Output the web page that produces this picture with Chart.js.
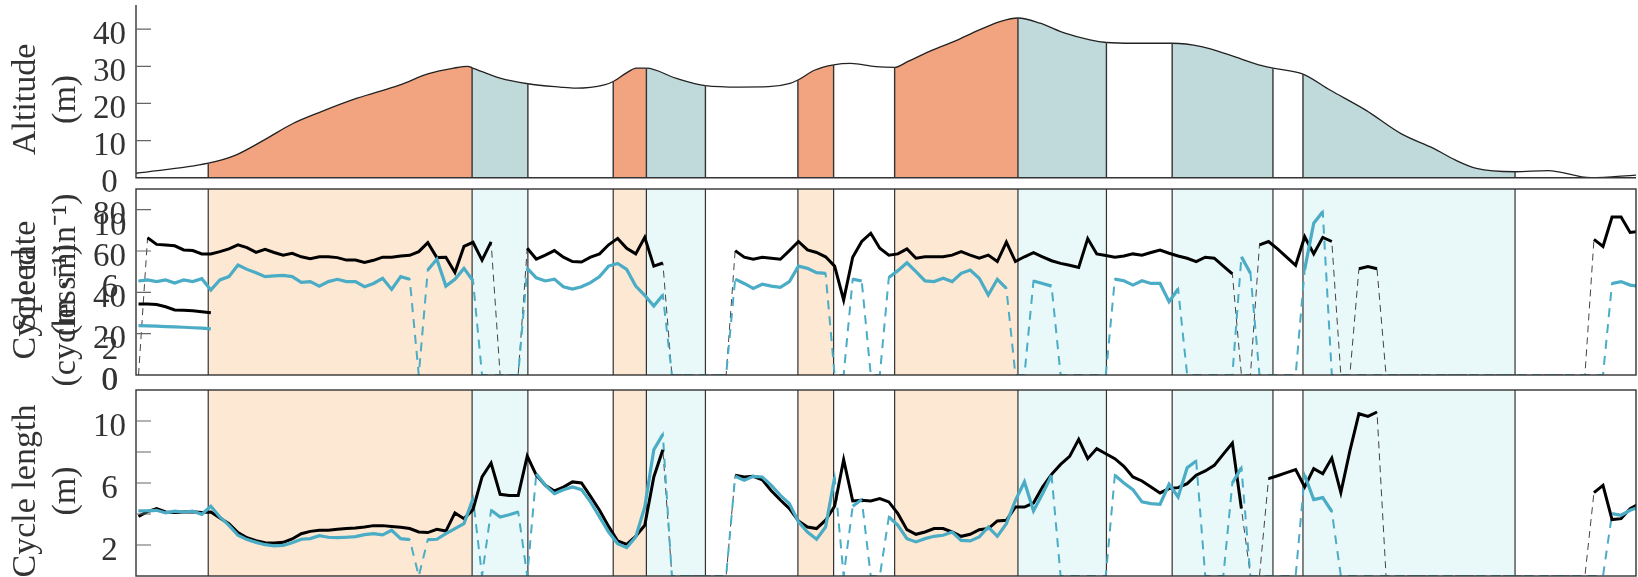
<!DOCTYPE html>
<html>
<head>
<meta charset="utf-8">
<script src="https://cdn.jsdelivr.net/npm/chart.js@4.4.0/dist/chart.umd.min.js"></script>
<style>
  html, body { margin: 0; padding: 0; background: #fff; }
  #wrap { position: relative; width: 1638px; height: 577px; overflow: hidden; }
  canvas { position: absolute; left: 0; }
</style>
</head>
<body>
<div id="wrap">
  <canvas id="altChart" width="1638" height="210" style="top:0"></canvas>
  <canvas id="rateChart" width="1638" height="220" style="top:180px"></canvas>
  <canvas id="lengthChart" width="1638" height="207" style="top:370px"></canvas>
</div>
<script>
// Course sections (distance in sample units) and their slope type
const sectionEdges = [-0.28, 7.71, 36.90, 43.07, 52.51, 56.18, 62.71, 72.94, 76.89, 83.64, 97.28, 107.07, 114.34, 125.49, 128.81, 152.27, 165.65];
const sectionTypes = ["flat", "up", "down", "flat", "up", "down", "flat", "up", "flat", "up", "down", "flat", "down", "flat", "down", "flat"];

// Altitude profile (m)
const altDist = [-0.28, 7.71, 10.75, 13.92, 17.08, 20.23, 24.18, 28.93, 32.09, 34.86, 36.44, 36.90, 39.99, 43.07, 46.62, 48.36, 51.53, 52.51, 53.89, 55.08, 56.18, 59.42, 62.71, 66.54, 69.70, 72.07, 72.94, 74.83, 76.89, 78.78, 81.55, 83.64, 85.11, 87.88, 90.24, 93.01, 95.38, 97.28, 99.72, 102.49, 105.25, 107.07, 110.08, 114.34, 117.58, 120.74, 123.91, 125.49, 128.81, 131.8, 135.75, 139.70, 143.26, 145.63, 148.0, 152.27, 155.91, 160.64, 165.65];
const altValue = [1.2, 3.9, 6.1, 10.2, 14.6, 17.8, 21.4, 25, 28, 29.5, 30, 29.6, 26.8, 25.3, 24.4, 24.1, 25, 25.9, 28.1, 29.5, 29.5, 26.8, 24.8, 24.4, 24.5, 25.4, 26.3, 29, 30.4, 30.8, 29.9, 29.7, 31.3, 34.4, 36.7, 39.8, 42.1, 43, 41.6, 38.9, 37.1, 36.4, 36.2, 36.2, 35.3, 33, 30.4, 29.5, 27.9, 23.6, 18.2, 11.8, 7.9, 4.8, 2.5, 1.6, 1.9, 0, 0.7];

// Cycle rate (cycles/min), 0 = no value
const rateBlack = [0, 66.4, 63.2, 62.9, 62.5, 60.5, 60.2, 58.6, 58.6, 59.7,
  61, 63, 61.6, 59.3, 60.8, 59.3, 58, 58.9, 57.2, 56.3,
  57.2, 57.2, 56.8, 55.6, 55.6, 54.5, 55.5, 57, 57, 57.6,
  57.9, 59.7, 64, 56.8, 57, 49.6, 62.2, 64.2, 55.6, 64.4,
  0, 0, 0, 61.3, 56.1, 58, 60.2, 57, 54.9, 54.7,
  57, 58.6, 63, 66.1, 61.3, 58.6, 66.6, 52.7, 54.2, 0,
  0, 0, 0, 0, 0, 0, 60.2, 57, 56, 57,
  56.5, 56, 60.2, 64.6, 60.5, 59.3, 57.2, 52.7, 36.3, 57,
  64.6, 68.6, 61.3, 58, 58.6, 61, 56.5, 57.2, 57.2, 57.2,
  58, 59.7, 58, 56.5, 58, 54.9, 64.3, 54.9, 57.2, 59.2,
  57.2, 55.3, 54, 53.1, 52, 66, 58.6, 57.8, 57, 57.6,
  58.6, 58, 59.3, 60.5, 58.9, 57.6, 56.5, 54.9, 57, 56.5,
  52.7, 48.9, 0, 0, 63, 64.6, 61, 57, 53.1, 66.9,
  58.6, 66.6, 64.6, 0, 0, 51.4, 52.5, 51.4, 0, 0,
  0, 0, 0, 0, 0, 0, 0, 0, 0, 0,
  0, 0, 0, 0, 0, 0, 0, 0, 0, 0,
  0, 65.6, 62.2, 76.4, 76.4, 69, 69.5];
const rateBlue = [45.5, 46, 45.2, 46, 44.5, 46, 45.2, 46.6, 41.1, 46,
  47.6, 53.2, 51.1, 49.5, 47.6, 48, 48.2, 47.6, 44.8, 45.2,
  43, 45.2, 46.3, 45.2, 45.2, 42.7, 44.3, 46.8, 41.4, 47.6,
  46.3, 0, 50.8, 56, 43, 46.3, 51.6, 45.6, 0, 0,
  0, 0, 0, 51.6, 47, 45.5, 46.4, 42.7, 41.6, 42.7,
  44.7, 47.6, 52.7, 54, 51.1, 43, 38.5, 33.4, 38.7, 0,
  0, 0, 0, 0, 0, 0, 46.4, 44.3, 41.9, 43.9,
  43, 42.4, 45.2, 52.7, 51.6, 49.5, 49.2, 0, 0, 46.4,
  45.5, 0, 0, 47.2, 50.5, 54.3, 50, 45.5, 45.2, 46.8,
  45.2, 49.2, 50.8, 46.8, 38.7, 46.3, 41.9, 0, 0, 45.5,
  44.3, 43, 0, 0, 0, 0, 0, 0, 46.4, 45.6,
  43.5, 45.6, 44.3, 44.3, 35.5, 41.6, 0, 0, 0, 0,
  0, 0, 57.2, 49.2, 0, 0, 0, 0, 0, 51.1,
  73.4, 79, 0, 0, 0, 0, 0, 0, 0, 0,
  0, 0, 0, 0, 0, 0, 0, 0, 0, 0,
  0, 0, 0, 0, 0, 0, 0, 0, 0, 0,
  0, 0, 0, 44.3, 45.2, 43.5, 43];

// Speed (m/s), first section only
const speedBlack = [4.58, 4.58, 4.55, 4.4, 4.2, 4.18, 4.15, 4.08, 4.02];
const speedBlue = [3.18, 3.17, 3.15, 3.12, 3.1, 3.08, 3.05, 3.02, 2.98];

// Cycle length (m), 0 = no value
const lengthBlack = [3.85, 4.15, 4.35, 4.13, 4.1, 4.13, 4.15, 4.1, 4.13, 3.74,
  3.38, 2.8, 2.47, 2.28, 2.15, 2.13, 2.17, 2.39, 2.73, 2.88,
  2.95, 2.95, 3.01, 3.06, 3.1, 3.16, 3.25, 3.25, 3.2, 3.14,
  3.06, 2.84, 2.8, 3.01, 2.9, 4.07, 3.7, 4.28, 6.39, 7.29,
  5.27, 5.2, 5.2, 7.74, 6.5, 5.85, 5.49, 5.74, 6.07, 6.0,
  5.14, 4.24, 3.2, 2.26, 2.04, 2.56, 3.27, 6.39, 8.15, 0,
  0, 0, 0, 0, 0, 0, 6.5, 6.39, 6.43, 6.2,
  5.5, 4.9, 4.35, 3.55, 3.16, 3.06, 3.6, 4.5, 7.51, 4.84,
  4.88, 4.84, 4.99, 4.78, 4.02, 2.99, 2.69, 2.84, 3.06, 3.06,
  2.84, 2.56, 2.69, 2.99, 3.06, 3.55, 3.59, 4.45, 4.45, 4.71,
  5.74, 6.56, 7.2, 7.72, 8.82, 7.57, 8.22, 7.89, 7.57, 7.08,
  6.39, 6.13, 5.74, 5.36, 5.64, 5.7, 5.96, 6.5, 6.78, 7.14,
  7.86, 8.58, 4.35, 0, 0, 6.28, 6.47, 6.67, 6.86, 5.74,
  6.93, 6.6, 7.61, 5.38, 8.07, 10.47, 10.3, 10.58, 0, 0,
  0, 0, 0, 0, 0, 0, 0, 0, 0, 0,
  0, 0, 0, 0, 0, 0, 0, 0, 0, 0,
  0, 5.38, 5.85, 3.64, 3.7, 4.35, 4.67];
const lengthBlue = [4.2, 4.2, 4.24, 4.07, 4.18, 4.13, 4.18, 3.98, 4.5, 3.81,
  3.27, 2.63, 2.35, 2.17, 2.02, 1.94, 1.98, 2.15, 2.37, 2.41,
  2.6, 2.5, 2.47, 2.5, 2.54, 2.67, 2.73, 2.65, 2.95, 2.41,
  2.35, 0, 2.35, 2.37, 2.73, 3.06, 3.38, 4.99, 0, 4.24,
  3.81, 3.95, 4.13, 0, 6.6, 5.85, 5.31, 5.57, 5.74, 5.57,
  4.78, 3.81, 2.84, 2.09, 1.83, 2.52, 4.45, 8.15, 9.14, 0,
  0, 0, 0, 0, 0, 0, 6.43, 6.17, 6.43, 6.39,
  5.85, 5.2, 4.67, 3.49, 2.84, 2.37, 3.16, 6.35, 0, 4.5,
  4.93, 0, 0, 3.81, 3.27, 2.41, 2.2, 2.41, 2.56, 2.63,
  2.84, 2.3, 2.26, 2.52, 3.16, 2.56, 3.38, 4.88, 6.07, 4.2,
  5.31, 6.5, 0, 0, 0, 0, 0, 0, 6.5, 6.0,
  5.57, 4.78, 4.67, 4.63, 5.92, 5.1, 6.99, 7.42, 0, 0,
  0, 6.0, 6.99, 0, 0, 0, 0, 0, 0, 6.5,
  4.93, 5.06, 4.17, 0, 0, 0, 0, 0, 0, 0,
  0, 0, 0, 0, 0, 0, 0, 0, 0, 0,
  0, 0, 0, 0, 0, 0, 0, 0, 0, 0,
  0, 0, 0, 4.02, 3.92, 4.24, 4.45];

// Tick labels
const altTicks = [0, 10, 20, 30, 40];
const rateTicks = [0, 20, 40, 60, 80];
const speedTicks = [0, 2, 6, 10];
const lengthTicks = [2, 6, 10];

const ORANGE = "#F1A47F", TEAL = "#C0DADB", PEACH = "#FDE8D3", MINT = "#E9F8F8", BLUE = "#4BACC6";
const FONT = '"Liberation Serif", "Times New Roman", serif';

Chart.defaults.font.family = FONT;
Chart.defaults.font.size = 33;
Chart.defaults.color = "#333";

function sectionAt(x) {
  for (let k = 0; k < sectionTypes.length; k++) {
    if (x < sectionEdges[k + 1]) return sectionTypes[k];
  }
  return "flat";
}

function altAt(d) {
  for (let k = 1; k < altDist.length; k++) {
    if (d <= altDist[k]) {
      const t = (d - altDist[k - 1]) / (altDist[k] - altDist[k - 1]);
      return altValue[k - 1] + t * (altValue[k] - altValue[k - 1]);
    }
  }
  return altValue[altValue.length - 1];
}

const pts = (arr) => arr.map((v, i) => ({ x: i, y: v }));
const solid = (arr) => arr.map((v, i) => ({ x: i, y: v === 0 ? null : v }));

// Draws section shading, boundaries, frame, inward ticks, titles
const decor = {
  id: "decor",
  beforeDatasetsDraw(chart, args, o) {
    if (!o.shade) return;
    const { ctx, chartArea: a } = chart;
    const x = chart.scales.x;
    ctx.save();
    sectionTypes.forEach((t, k) => {
      const c = t === "up" ? PEACH : t === "down" ? MINT : null;
      if (!c) return;
      const x0 = x.getPixelForValue(sectionEdges[k]);
      const x1 = x.getPixelForValue(sectionEdges[k + 1]);
      ctx.fillStyle = c;
      ctx.fillRect(x0, a.top, x1 - x0, a.bottom - a.top);
    });
    ctx.strokeStyle = "#333";
    ctx.lineWidth = 1.2;
    ctx.beginPath();
    sectionEdges.slice(1, -1).forEach((e) => {
      const px = x.getPixelForValue(e);
      ctx.moveTo(px, a.top);
      ctx.lineTo(px, a.bottom);
    });
    ctx.stroke();
    ctx.restore();
  },
  afterDatasetsDraw(chart, args, o) {
    const { ctx, chartArea: a } = chart;
    const x = chart.scales.x, y = chart.scales.y;
    ctx.save();
    ctx.strokeStyle = "#333";
    ctx.lineWidth = 1.4;
    if (o.shade) {
      ctx.strokeRect(a.left, a.top, a.right - a.left, a.bottom - a.top);
    } else {
      ctx.beginPath();
      sectionEdges.slice(1, -1).forEach((e) => {
        const px = x.getPixelForValue(e);
        ctx.moveTo(px, a.bottom);
        ctx.lineTo(px, y.getPixelForValue(altAt(e)));
      });
      ctx.moveTo(a.left, a.top);
      ctx.lineTo(a.left, a.bottom);
      ctx.lineTo(a.right, a.bottom);
      ctx.stroke();
    }
    // inward tick marks
    ctx.strokeStyle = "#666";
    ctx.lineWidth = 1.2;
    ctx.beginPath();
    o.marks.forEach((v) => {
      const py = y.getPixelForValue(v);
      ctx.moveTo(a.left, py);
      ctx.lineTo(a.left + 15, py);
    });
    ctx.stroke();
    ctx.restore();
  },
  afterDraw(chart, args, o) {
    const { ctx, chartArea: a } = chart;
    ctx.save();
    ctx.fillStyle = "#333";
    ctx.textAlign = "center";
    ctx.textBaseline = "middle";
    // labels of the second (speed) axis, drawn over the first ones
    if (o.extra) {
      ctx.font = "33px " + FONT;
      const s = chart.scales[o.extra.axis];
      o.extra.values.forEach((v) => ctx.fillText(String(v), 110, s.getPixelForValue(v) + 6));
    }
    ctx.font = "34px " + FONT;
    const cy = (a.top + a.bottom) / 2 + 8;
    o.titles.forEach((lines) => {
      lines.forEach((t, k) => {
        ctx.save();
        ctx.translate(26 + 40 * k, cy);
        ctx.rotate(-Math.PI / 2);
        ctx.fillText(t, 0, 0);
        ctx.restore();
      });
    });
    ctx.restore();
  },
};

function yAxis(min, max, labels) {
  return {
    min: min,
    max: max,
    border: { display: false },
    grid: { display: false, drawTicks: false },
    afterBuildTicks: (s) => {
      s.ticks = labels.map((v) => ({ value: v }));
    },
    ticks: {
      autoSkip: false,
      padding: 10,
      crossAlign: "center",
      labelOffset: 6,
      color: "#333",
      font: { size: 33, lineHeight: 1 },
    },
    afterFit: (s) => {
      s.width = 136;
      s.paddingTop = 0;
      s.paddingBottom = 0;
    },
  };
}

const xAxis = { type: "linear", min: -0.28, max: 165.65, display: false };

const common = {
  responsive: false,
  animation: false,
  events: [],
  elements: { point: { radius: 0 }, line: { tension: 0 } },
};

// Altitude
new Chart("altChart", {
  type: "line",
  data: {
    datasets: [
      {
        data: altDist.map((d, k) => ({ x: d, y: altValue[k] })),
        borderColor: "#222",
        borderWidth: 1.3,
        fill: "origin",
        cubicInterpolationMode: "monotone",
        segment: {
          backgroundColor: (c) => {
            const t = sectionAt((c.p0.parsed.x + c.p1.parsed.x) / 2);
            return t === "up" ? ORANGE : t === "down" ? TEAL : "rgba(0,0,0,0)";
          },
        },
      },
    ],
  },
  options: {
    ...common,
    layout: { padding: { left: 0, top: 5, right: 2, bottom: 32.3 } },
    scales: { x: xAxis, y: yAxis(0, 46.5, altTicks) },
    plugins: {
      legend: { display: false },
      tooltip: { enabled: false },
      decor: { shade: false, marks: [10, 20, 30, 40], titles: [["Altitude", "(m)"]] },
    },
  },
  plugins: [decor],
});

// Cycle rate and speed
new Chart("rateChart", {
  type: "line",
  data: {
    datasets: [
      { data: solid(rateBlue), borderColor: BLUE, borderWidth: 3.2, order: 0 },
      { data: solid(rateBlack), borderColor: "#000", borderWidth: 3, order: 1 },
      { data: pts(speedBlue), yAxisID: "y2", borderColor: BLUE, borderWidth: 3.2, order: 0 },
      { data: pts(speedBlack), yAxisID: "y2", borderColor: "#000", borderWidth: 3, order: 1 },
      { data: pts(rateBlue), borderColor: BLUE, borderWidth: 2, borderDash: [9, 7], order: 2 },
      { data: pts(rateBlack), borderColor: "#444", borderWidth: 1, borderDash: [7, 5], order: 3 },
    ],
  },
  options: {
    ...common,
    layout: { padding: { left: 0, top: 9, right: 2, bottom: 25 } },
    scales: {
      x: xAxis,
      y: yAxis(0, 90, rateTicks),
      y2: { display: false, min: 0, max: 12 },
    },
    plugins: {
      legend: { display: false },
      tooltip: { enabled: false },
      decor: {
        shade: true,
        marks: [20, 40, 60, 80],
        extra: { axis: "y2", values: speedTicks },
        titles: [
          ["Cycle rate", "(cycles\u00b7min\u207b\u00b9)"],
          ["Speed", "(m s\u207b\u00b9)"],
        ],
      },
    },
  },
  plugins: [decor],
});

// Cycle length
new Chart("lengthChart", {
  type: "line",
  data: {
    datasets: [
      { data: solid(lengthBlue), borderColor: BLUE, borderWidth: 3.2, order: 0 },
      { data: solid(lengthBlack), borderColor: "#000", borderWidth: 3, order: 1 },
      { data: pts(lengthBlue), borderColor: BLUE, borderWidth: 2, borderDash: [9, 7], order: 2 },
      { data: pts(lengthBlack), borderColor: "#444", borderWidth: 1, borderDash: [7, 5], order: 3 },
    ],
  },
  options: {
    ...common,
    layout: { padding: { left: 0, top: 20, right: 2, bottom: 1 } },
    scales: { x: xAxis, y: yAxis(0, 12, lengthTicks) },
    plugins: {
      legend: { display: false },
      tooltip: { enabled: false },
      decor: { shade: true, marks: [2, 4, 6, 8, 10], titles: [["Cycle length", "(m)"]] },
    },
  },
  plugins: [decor],
});
</script>
</body>
</html>
